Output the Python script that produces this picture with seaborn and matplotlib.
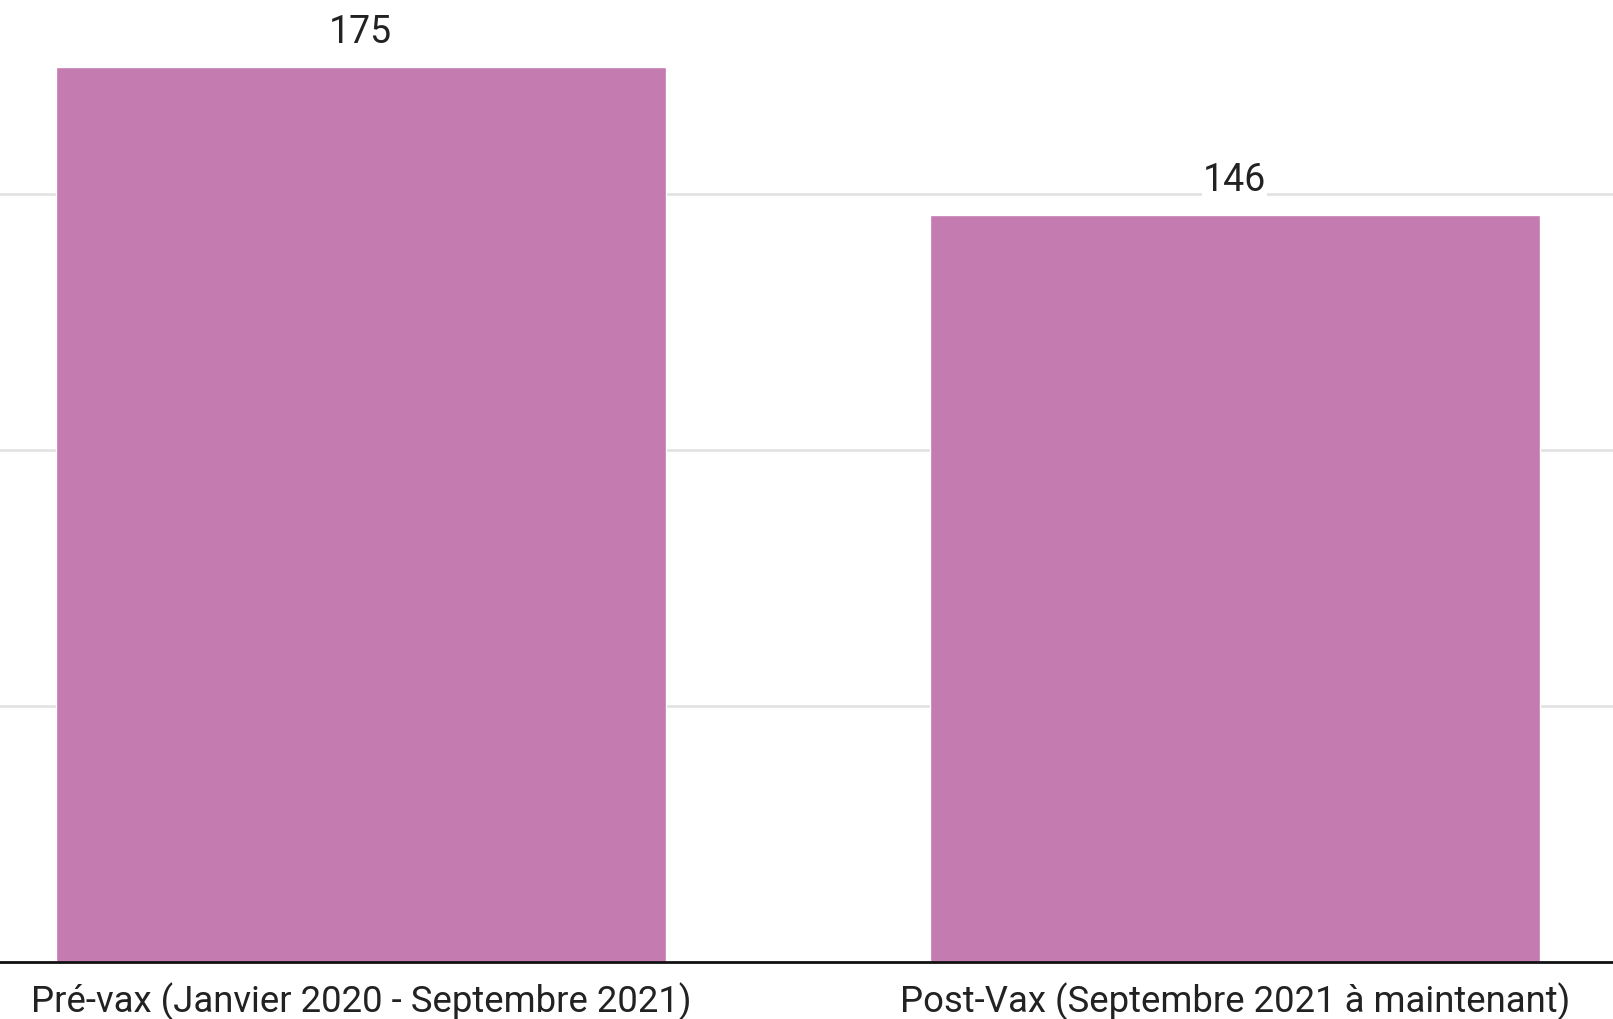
import matplotlib
matplotlib.use("Agg")
import matplotlib.pyplot as plt
import seaborn as sns
import pandas as pd

categories = ["Pré-vax (Janvier 2020 - Septembre 2021)", "Post-Vax (Septembre 2021 à maintenant)"]
values = [175, 146]
bar_color = "#C47BAF"

sns.set_theme(style="white")
plt.rcParams['font.family'] = ['Roboto', 'DejaVu Sans']

df = pd.DataFrame({"cat": categories, "val": values})

fig = plt.figure(figsize=(16.13, 10.20), dpi=100)
ax = fig.add_axes([0, 0.0559, 1, 0.9441])
sns.barplot(data=df, x="cat", y="val", color=bar_color, saturation=1, width=0.698, ax=ax)

ax.set_ylim(0, 188.2)
ax.set_xlim(-0.413, 1.433)
ax.set_yticks([50, 100, 150])
ax.set_yticklabels([])
ax.yaxis.grid(True, color="#e3e3e3", linewidth=2)
ax.set_axisbelow(True)
ax.tick_params(axis="y", length=0)
ax.tick_params(axis="x", length=0, labelsize=26.3, pad=14, labelcolor="#222222")
ax.set_xlabel("")
ax.set_ylabel("")
for s in ["top", "left", "right"]:
    ax.spines[s].set_visible(False)
ax.spines["bottom"].set_color("#111111")
ax.spines["bottom"].set_linewidth(2)

for i, v in enumerate(values):
    ax.annotate(str(v), (i, v), xytext=(0, 12), textcoords="offset points",
                ha="center", va="bottom", fontsize=27, color="#222222",
                bbox=dict(facecolor="white", edgecolor="none", pad=0.5))

fig.savefig("out.png", dpi=100)
